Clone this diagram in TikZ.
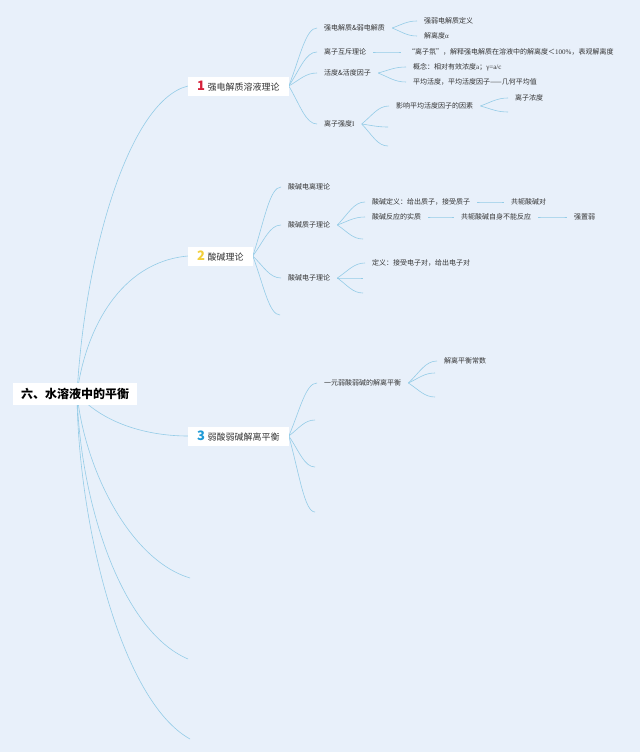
\documentclass[tikz,border=0pt]{standalone}
\usepackage{fontspec}
\setmainfont{Noto Sans CJK SC}
\newfontfamily\serf{Liberation Serif}
\usetikzlibrary{calc}
\definecolor{bgc}{HTML}{E8F0FA}
\definecolor{linec}{HTML}{95CCE7}
\definecolor{txtc}{HTML}{333333}
\definecolor{numa}{HTML}{D6213A}
\definecolor{numb}{HTML}{F2CF3A}
\definecolor{numc}{HTML}{1E9AD6}
\pgfdeclarelayer{bglayer}
\pgfsetlayers{bglayer,main}
\newcommand\mmlink[2]{\draw[conn] let \p1=(#1), \p2=(#2) in (\p1) .. controls ({\x1+0.4*(\x2-\x1)},{\y1+0.5*(\y2-\y1)}) and ({\x1+0.6*(\x2-\x1)},\y2) .. (\p2);}
\newcommand\bnum[2]{{\color{#1}\fontsize{13}{13}\selectfont\bfseries #2}\hspace{2.5pt}}
\begin{document}
\begin{tikzpicture}[x=1pt,y=-1pt,
  conn/.style={draw=linec, line width=0.6pt},
  rootn/.style={fill=white, text=black, font=\bfseries\fontsize{12}{14}\selectfont, minimum width=124pt, minimum height=22pt, inner sep=0pt},
  br/.style={fill=white, text=txtc, anchor=west, inner xsep=9pt, inner ysep=0pt, minimum height=19pt, font=\fontsize{9}{10}\selectfont},
  tx/.style={anchor=west, text=txtc, inner xsep=7pt, inner ysep=1pt, font=\fontsize{7}{8}\selectfont}]
\useasboundingbox (0,0) rectangle (640,752);
% nodes
\node[rootn] (root) at (75,394) {六、水溶液中的平衡};
\node[br] (b1) at (188,86) {\bnum{numa}{1}强电解质溶液理论};
\node[br] (b2) at (188,256) {\bnum{numb}{2}酸碱理论};
\node[br] (b3) at (188,436) {\bnum{numc}{3}弱酸弱碱解离平衡};
\coordinate (e4) at (190,578);
\coordinate (e5) at (188,659);
\coordinate (e6) at (190,739);
% branch 1
\node[tx] (a1) at (317,28) {强电解质\&弱电解质};
\node[tx] (a2) at (317,52) {离子互斥理论};
\node[tx] (a3) at (317,73) {活度\&活度因子};
\node[tx] (a4) at (317,124) {离子强度{\serf I}};
\node[tx] (a11) at (417,21) {强弱电解质定义};
\node[tx] (a12) at (417,36) {解离度{\serf α}};
\node[tx] (a21) at (401,52) {“离子氛”，解释强电解质在溶液中的解离度＜{\serf 100\%}，表观解离度};
\node[tx] (a31) at (406,67) {概念：相对有效浓度{\serf a}；{\serf γ=a/c}};
\node[tx] (a32) at (406,82) {平均活度，平均活度因子——几何平均值};
\node[tx] (a41) at (389,106) {影响平均活度因子的因素};
\coordinate (a42) at (388,127);
\coordinate (a43) at (388,146);
\node[tx] (a411) at (508,98) {离子浓度};
\coordinate (a412) at (508,112);
% branch 2
\node[tx] (c1) at (281,187) {酸碱电离理论};
\node[tx] (c2) at (281,225) {酸碱质子理论};
\node[tx] (c3) at (281,278) {酸碱电子理论};
\coordinate (c4) at (280,315);
\node[tx] (c21) at (365,202) {酸碱定义：给出质子，接受质子};
\node[tx] (c22) at (365,217) {酸碱反应的实质};
\coordinate (c23) at (363,239);
\node[tx] (c211) at (504,202) {共轭酸碱对};
\node[tx] (c221) at (454,217) {共轭酸碱自身不能反应};
\node[tx] (c2211) at (567,217) {强置弱};
\node[tx] (c31) at (365,263) {定义：接受电子对，给出电子对};
\coordinate (c32) at (363,278);
\coordinate (c33) at (363,293);
% branch 3
\node[tx] (d1) at (317,383) {一元弱酸弱碱的解离平衡};
\coordinate (d2) at (315,420);
\coordinate (d3) at (315,467);
\coordinate (d4) at (315,512);
\node[tx] (d11) at (437,361) {解离平衡常数};
\coordinate (d12) at (435,373);
\coordinate (d13) at (435,397);
% connectors
\begin{pgfonlayer}{bglayer}
\fill[bgc] (0,0) rectangle (640,752);
\coordinate (rs) at ([xshift=2pt]root.center);
\draw[conn] (rs) .. controls (85,250) and (130,100) .. (b1.west);
\draw[conn] (rs) .. controls (85,330) and (120,262) .. (b2.west);
\draw[conn] (rs) .. controls (105,425) and (150,436) .. (b3.west);
\draw[conn] (rs) .. controls (85,470) and (130,560) .. (e4);
\draw[conn] (rs) .. controls (80,500) and (120,630) .. (e5);
\draw[conn] (rs) .. controls (78,520) and (120,700) .. (e6);
\mmlink{b1.east}{a1.west}
\mmlink{b1.east}{a2.west}
\mmlink{b1.east}{a3.west}
\mmlink{b1.east}{a4.west}
\mmlink{a1.east}{a11.west}
\mmlink{a1.east}{a12.west}
\mmlink{a2.east}{a21.west}
\mmlink{a3.east}{a31.west}
\mmlink{a3.east}{a32.west}
\mmlink{a4.east}{a41.west}
\mmlink{a4.east}{a42}
\mmlink{a4.east}{a43}
\mmlink{a41.east}{a411.west}
\mmlink{a41.east}{a412}
\mmlink{b2.east}{c1.west}
\mmlink{b2.east}{c2.west}
\mmlink{b2.east}{c3.west}
\mmlink{b2.east}{c4}
\mmlink{c2.east}{c21.west}
\mmlink{c2.east}{c22.west}
\mmlink{c2.east}{c23}
\mmlink{c21.east}{c211.west}
\mmlink{c22.east}{c221.west}
\mmlink{c221.east}{c2211.west}
\mmlink{c3.east}{c31.west}
\mmlink{c3.east}{c32}
\mmlink{c3.east}{c33}
\mmlink{b3.east}{d1.west}
\mmlink{b3.east}{d2}
\mmlink{b3.east}{d3}
\mmlink{b3.east}{d4}
\mmlink{d1.east}{d11.west}
\mmlink{d1.east}{d12}
\mmlink{d1.east}{d13}
\end{pgfonlayer}
\end{tikzpicture}
\end{document}
